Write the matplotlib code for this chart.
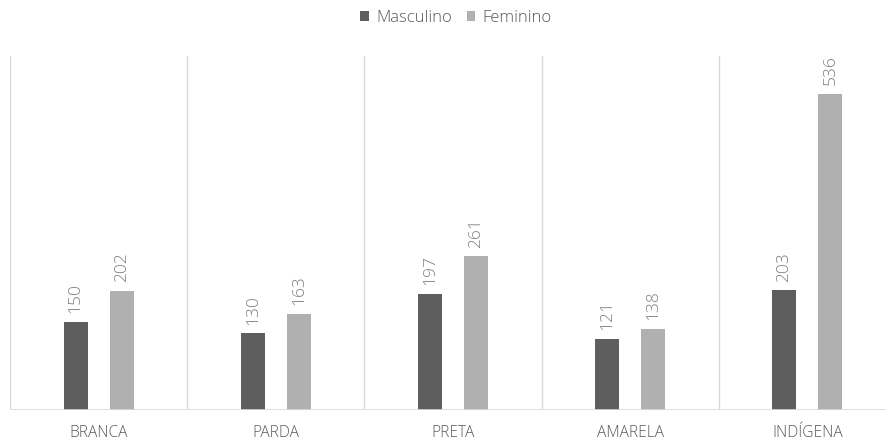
import matplotlib
matplotlib.use("Agg")
import matplotlib.pyplot as plt
import numpy as np

categories = ["BRANCA", "PARDA", "PRETA", "AMARELA", "INDÍGENA"]
masculino = [150, 130, 197, 121, 203]
feminino = [202, 163, 261, 138, 536]
series_names = ["Masculino", "Feminino"]

plt.rcParams['font.family'] = ['Open Sans', 'DejaVu Sans']
dark = "#5E5E5E"
light = "#B0B0B0"
txt = "#595959"
valtxt = "#7F7F7F"
grid = "#D9D9D9"

W, H = 886, 440
fig = plt.figure(figsize=(W/100, H/100), dpi=100)
ax = fig.add_axes([10/W, 1-410/H, 886/W, (410-56)/H])

x = np.arange(len(categories))
bw = 24/177
off = 23/177
b1 = ax.bar(x - off, masculino, bw, color=dark, label=series_names[0], zorder=3)
b2 = ax.bar(x + off, feminino, bw, color=light, label=series_names[1], zorder=3)

for bars in (b1, b2):
    for r in bars:
        ax.annotate(f"{int(r.get_height())}", (r.get_x()+r.get_width()/2, r.get_height()),
                    xytext=(0, 6), textcoords="offset points", rotation=90,
                    ha="center", va="bottom", fontsize=12.5, color=valtxt, fontweight="light")

ax.set_xlim(-0.5, len(categories)-0.5)
ax.set_ylim(0, 600)
for i in range(len(categories)+1):
    ax.axvline(i-0.5, color=grid, lw=1, zorder=1)
ax.axhline(0, color=grid, lw=1.2, zorder=4)
for s in ax.spines.values():
    s.set_visible(False)
ax.set_yticks([])
ax.set_xticks(x)
ax.set_xticklabels(categories, fontsize=11.2, color=txt, fontweight="light")
ax.tick_params(axis='x', length=0, pad=11)

fig.legend(handles=[b1, b2], labels=series_names, loc="center", bbox_to_anchor=(456/W, 1-18/H),
           ncol=2, frameon=False, labelcolor=txt, handlelength=0.5, handleheight=0.5,
           handletextpad=0.45, columnspacing=0.9, prop={'weight': 'light', 'size': 12})

fig.savefig("out.png", dpi=100)
